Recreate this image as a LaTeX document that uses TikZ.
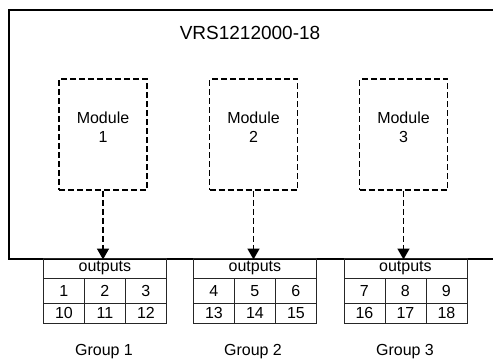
\documentclass[tikz,border=0pt]{standalone}
\usepackage{fontspec}
\setmainfont{Liberation Sans}
\usetikzlibrary{arrows.meta}
\begin{document}
\begin{tikzpicture}[x=1pt,y=-1pt,
  modbox/.style={draw,line width=1.6pt,dash pattern=on 6pt off 3pt,minimum width=88pt,minimum height=111pt,inner sep=0pt},
  cell/.style={draw=black!85,line width=0.8pt,minimum width=41pt,inner sep=0pt,font=\fontsize{16}{18}\selectfont},
  hdr/.style={draw=black!85,line width=0.8pt,minimum width=123pt,minimum height=20pt,inner sep=0pt,font=\fontsize{16}{18}\selectfont},
  flow/.style={line width=1.6pt,dash pattern=on 6pt off 3pt,-{Triangle[width=12pt,length=11pt]}},
  grp/.style={font=\fontsize{16}{18}\selectfont}]
\useasboundingbox (0,0) rectangle (493,359);
\begin{scope}
\clip (0,0) rectangle (493,359);
\node[draw,line width=2pt,minimum width=500pt,minimum height=249pt,inner sep=0pt,anchor=north west] (main) at (8,9) {};
\end{scope}
\node[font=\fontsize{19}{22}\selectfont] (title) at (250,33) {VRS1212000-18};
% modules
\foreach \i/\x in {1/103,2/253.5,3/403.5}{
  \node[modbox] (m\i) at (\x,134.5) {};
  \node[font=\fontsize{16}{19}\selectfont,align=center] (ml\i) at (\x,127) {Module\\\i};
}
% tables
\foreach \t/\x/\a/\b/\c/\d/\e/\f in {1/43/1/2/3/10/11/12,2/193/4/5/6/13/14/15,3/343.5/7/8/9/16/17/18}{
  \node[hdr,anchor=north west] (h\t) at (\x,258) {outputs};
  \node[cell,minimum height=24.5pt,anchor=north west] (c\t a) at (\x,278) {\a};
  \node[cell,minimum height=24.5pt,anchor=north west] (c\t b) at (\x+41,278) {\b};
  \node[cell,minimum height=24.5pt,anchor=north west] (c\t c) at (\x+82,278) {\c};
  \node[cell,minimum height=20.5pt,anchor=north west] (c\t d) at (\x,302.5) {\d};
  \node[cell,minimum height=20.5pt,anchor=north west] (c\t e) at (\x+41,302.5) {\e};
  \node[cell,minimum height=20.5pt,anchor=north west] (c\t f) at (\x+82,302.5) {\f};
}
\foreach \i in {1,2,3}{
  \draw[flow] (m\i.south) -- ([yshift=-1.5pt]h\i.north -| m\i.south);
}
\node[grp] (g1) at (104,352) {Group 1};
\node[grp] (g2) at (253,352) {Group 2};
\node[grp] (g3) at (405,352) {Group 3};
\end{tikzpicture}
\end{document}
